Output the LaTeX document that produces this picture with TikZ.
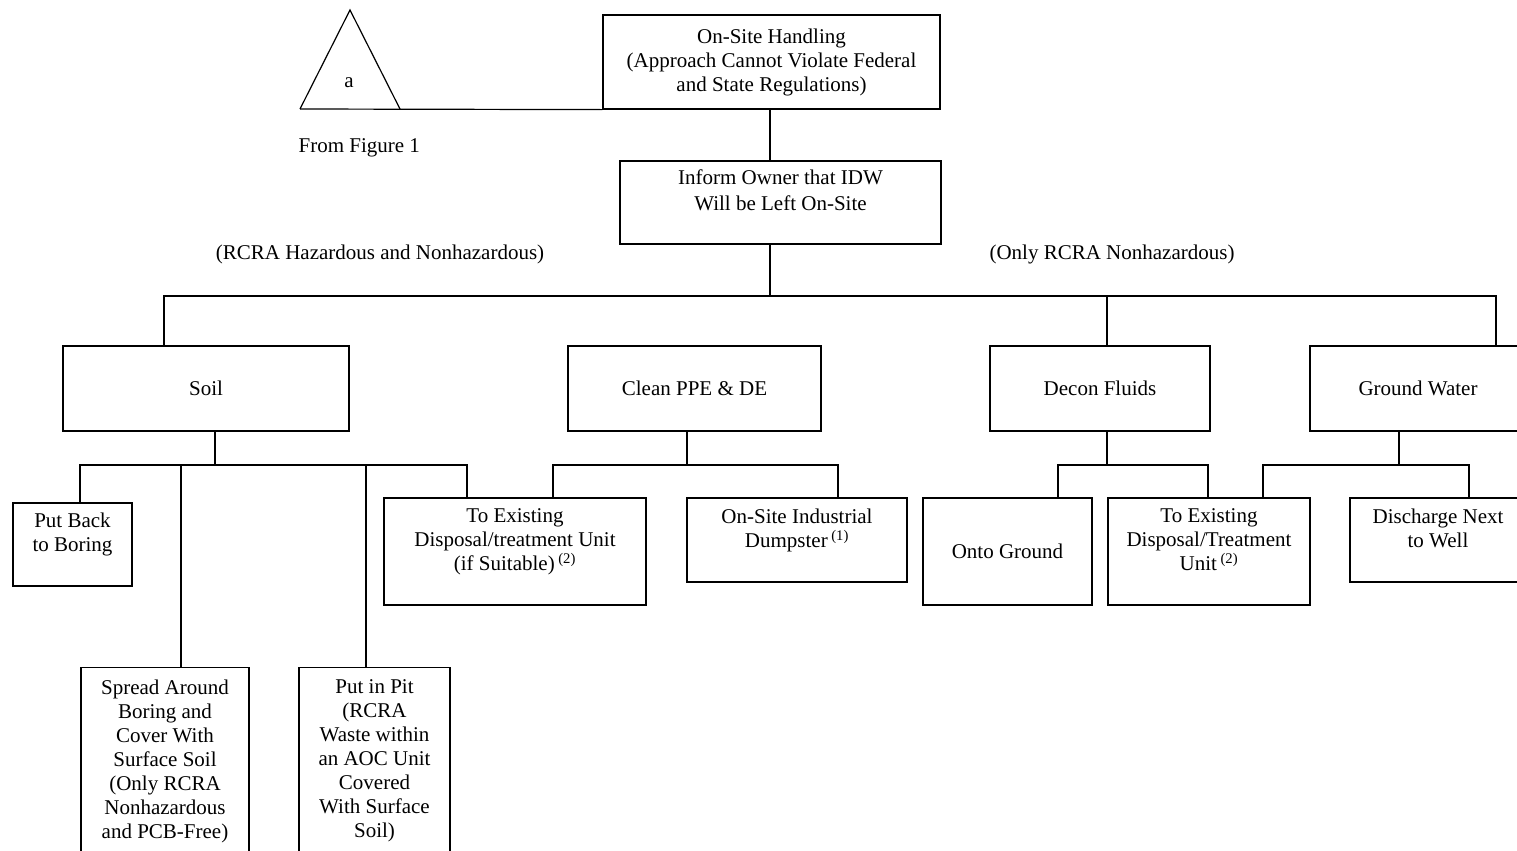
\documentclass[tikz,border=0pt]{standalone}
\usepackage{fontspec}
\setmainfont{Liberation Serif}
\usepackage{tikz}
\usetikzlibrary{positioning,calc}
\newcommand{\idwfont}{\fontsize{15.75pt}{18pt}\selectfont}
\newcommand{\note}[1]{\,\textsuperscript{(#1)}}
\tikzset{
  idw box/.style={rectangle, draw, align=center, inner sep=0pt, font=\idwfont},
  idw tall/.style={rectangle, draw, align=center, inner xsep=0pt, inner ysep=9pt, anchor=north, font=\idwfont},
  idw text/.style={align=center, inner sep=0pt, font=\idwfont}
}
\begin{document}
\begin{tikzpicture}[x=0.75pt, y=-0.75pt, line width=0.9pt]
    \useasboundingbox (0,0) rectangle (1517,850);
    \clip (0,0) rectangle (1517,850);

    % top
    \coordinate (tri L) at (300,109);
    \coordinate (tri T) at (350,10);
    \coordinate (tri R) at (400,109);
    \draw (tri L) -- (tri T) -- (tri R);
    \node [idw text] (tri a) at (349,83) {a};
    \node [idw text, anchor=west] (from fig) at (298,148) {From Figure 1};
    \node [idw box, minimum width=252.75pt, minimum height=70.5pt] (onsite) at (771.5,62)
        {On-Site Handling\\(Approach Cannot Violate Federal\\and State Regulations)};
    \node [idw box, minimum width=240.75pt, minimum height=62.25pt] (inform) at (780.5,202.5)
        {Inform Owner that IDW\\[1.5pt]Will be Left On-Site\\\mbox{}};
    \draw (tri L) -- (onsite.south west);
    \draw (onsite.south -| 770,0) -- (inform.north -| 770,0);

    \node [idw text] (haz) at (380,254) {(RCRA Hazardous and Nonhazardous)};
    \node [idw text] (nonhaz) at (1112,254) {(Only RCRA Nonhazardous)};

    % media
    \node [idw box, minimum width=214.5pt, minimum height=63.75pt] (soil) at (206,388.5) {Soil};
    \node [idw box, minimum width=189.75pt, minimum height=63.75pt] (clean) at (694.5,388.5) {Clean PPE \& DE};
    \node [idw box, minimum width=165pt, minimum height=63.75pt] (decon) at (1100,388.5) {Decon Fluids};
    \node [idw box, minimum width=162pt, minimum height=63.75pt] (ground) at (1418,388.5) {Ground Water};

    \coordinate (main fork) at (770,296);
    \draw (inform.south -| main fork) -- (main fork);
    \draw (soil.north -| 164,0) |- (main fork);
    \draw (main fork) -| (ground.north -| 1496,0);
    \draw (decon.north -| 1107,0) |- (main fork);

    % handling options
    \node [idw box, minimum width=89.25pt, minimum height=62.25pt] (putback) at (72.5,544.5)
        {Put Back\\to Boring\\\mbox{}};
    \node [idw box, minimum width=196.5pt, minimum height=80.25pt] (exist1) at (515,551.5)
        {To Existing\\Disposal/treatment Unit\\(if Suitable)\note{2}\\\mbox{}};
    \node [idw box, minimum width=165pt, minimum height=63pt] (dumpster) at (797,540)
        {On-Site Industrial\\Dumpster\note{1}\\\mbox{}};
    \node [idw box, minimum width=126.75pt, minimum height=80.25pt] (onto) at (1007.5,551.5)
        {Onto Ground};
    \node [idw box, minimum width=151.5pt, minimum height=80.25pt] (exist2) at (1209,551.5)
        {To Existing\\Disposal/Treatment\\Unit\note{2}\\\mbox{}};
    \node [idw box, minimum width=132pt, minimum height=63pt] (discharge) at (1438,540)
        {Discharge Next\\to Well\\\mbox{}};
    \node [idw tall, minimum width=126pt] (spread) at (165,667)
        {Spread Around\\Boring and\\Cover With\\Surface Soil\\(Only RCRA\\Nonhazardous\\and PCB-Free)\\\mbox{}};
    \node [idw tall, minimum width=113.25pt] (pit) at (374.5,667)
        {Put in Pit\\(RCRA\\Waste within\\an AOC Unit\\Covered\\With Surface\\Soil)\\\mbox{}};

    % soil
    \coordinate (soil fork) at (215,465);
    \draw (soil.south -| soil fork) -- (soil fork);
    \draw (soil fork) -| (putback.north -| 80,0);
    \draw (soil fork) -| (exist1.north -| 467,0);
    \draw (spread.north -| 181,0) |- (soil fork);
    \draw (pit.north -| 366,0) |- (soil fork);

    % clean ppe
    \coordinate (clean fork) at (687,465);
    \draw (clean.south -| clean fork) -- (clean fork);
    \draw (clean fork) -| (exist1.north -| 553,0);
    \draw (clean fork) -| (dumpster.north -| 838,0);

    % decon fluids
    \coordinate (decon fork) at (1107,465);
    \draw (decon.south -| decon fork) -- (decon fork);
    \draw (decon fork) -| (onto.north -| 1058,0);
    \draw (decon fork) -| (exist2.north -| 1208,0);

    % ground water
    \coordinate (ground fork) at (1399,465);
    \draw (ground.south -| ground fork) -- (ground fork);
    \draw (ground fork) -| (exist2.north -| 1263,0);
    \draw (ground fork) -| (discharge.north -| 1469,0);

\end{tikzpicture}
\end{document}
